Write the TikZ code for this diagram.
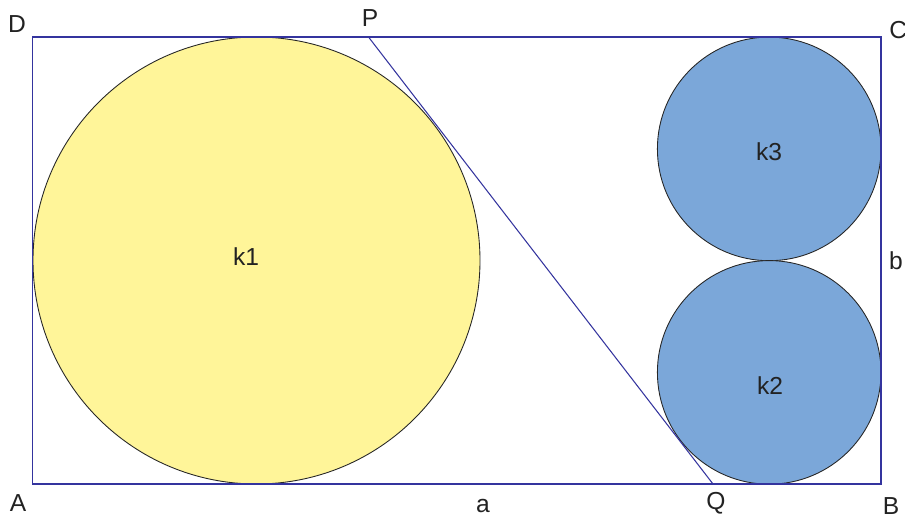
\documentclass[tikz,border=0pt]{standalone}
\usepackage{fontspec}
\setmainfont{Liberation Sans}
\usetikzlibrary{calc}
\definecolor{gedge}{HTML}{34349E}
\definecolor{gyellow}{HTML}{FFF599}
\definecolor{gblue}{HTML}{7BA7D9}
\definecolor{gink}{HTML}{222222}
\begin{document}
\begin{tikzpicture}[x=0.02cm,y=0.02cm,font=\fontsize{14}{16}\selectfont,
  side/.style={draw=gedge,line width=0.6pt},
  disc/.style={draw=black!85,line width=0.5pt},
  lbl/.style={text=gink,inner sep=0pt}]
\useasboundingbox (0,0) rectangle (905,517);

% ================= the circles =================
\draw[disc,fill=gyellow] (256.5,256.5) circle (223.5);
\draw[disc,fill=gblue] (769.2,368.1) circle (111.8);
\draw[disc,fill=gblue] (769.2,144.6) circle (111.8);
\node[lbl] (k1) at (246,260) {k1};
\node[lbl] (k3) at (769,365) {k3};
\node[lbl] (k2) at (770,131) {k2};

% ================= rectangle and the tangent =================
\coordinate (A) at (32.5,33);
\coordinate (B) at (881,33);
\coordinate (C) at (881,480);
\coordinate (D) at (32.5,480);
\coordinate (P) at (368.5,480);
\coordinate (Q) at (713,33);
\draw[side] (A) -- (B) -- (C) -- (D) -- cycle;
\draw[side] (P) -- (Q);

% ================= corner and side labels =================
\node[lbl] (lA) at (18,14) {A};
\node[lbl] (lB) at (891,11) {B};
\node[lbl,anchor=west] (lC) at (889,487) {C};
\node[lbl] (lD) at (17,493) {D};
\node[lbl] (lP) at (370,499) {P};
\node[lbl] (lQ) at (716,14) {Q};
\node[lbl] (la) at (483,11) {a};
\node[lbl] (lb) at (896,256) {b};
\end{tikzpicture}
\end{document}
